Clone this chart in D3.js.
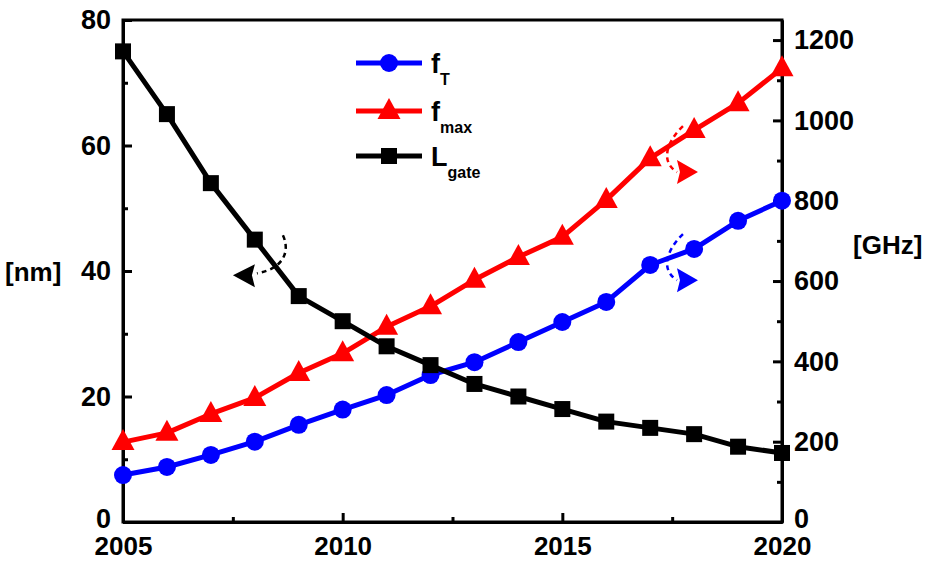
<!DOCTYPE html>
<html>
<head>
<meta charset="utf-8">
<script src="https://cdn.jsdelivr.net/npm/d3@7"></script>
<style>
  body { margin: 0; background: #fff; }
  text { font-family: "Liberation Sans", Arial, sans-serif; font-weight: bold; }
</style>
</head>
<body>
<div id="chart"></div>
<script>
// data
var years = [2005, 2006, 2007, 2008, 2009, 2010, 2011, 2012, 2013, 2014, 2015, 2016, 2017, 2018, 2019, 2020];
var fT    = [117, 137, 167, 200, 242, 280, 316, 366, 398, 448, 498, 548, 640, 680, 750, 800];      // GHz
var fMax  = [199, 222, 269, 309, 371, 420, 486, 537, 603, 660, 710, 802, 906, 976, 1043, 1130]; // GHz
var lGate = [75, 65, 54, 45, 36, 32, 28, 25, 22, 20, 18, 16, 15, 14, 12, 11];                   // nm

var xTicks = [2005, 2010, 2015, 2020];
var xMinor = [2007.5, 2012.5, 2017.5];
var leftTicks = [0, 20, 40, 60, 80];
var leftMinor = [10, 30, 50, 70];
var rightTicks = [0, 200, 400, 600, 800, 1000, 1200];
var rightMinor = [100, 300, 500, 700, 900, 1100];

var svgWidth = 928;
var svgHeight = 561;
var margin = { top: 20, right: 146, bottom: 39, left: 123 };
var width = svgWidth - margin.left - margin.right;
var height = svgHeight - margin.top - margin.bottom;

var svg = d3.select("#chart").append("svg")
  .attr("width", svgWidth)
  .attr("height", svgHeight);

var chart = svg.append("g")
  .attr("transform", `translate(${margin.left}, ${margin.top})`);

var x = d3.scaleLinear().domain([2005, 2020]).range([0, width]);
var yL = d3.scaleLinear().domain([0, 80]).range([height, 0]);
var yR = d3.scaleLinear().domain([0, 1250]).range([height, 0]);

// frame
chart.append("rect")
  .attr("width", width).attr("height", height)
  .attr("fill", "none").attr("stroke", "#000").attr("stroke-width", 3);

function styleAxis(g, size) {
  g.selectAll(".domain").attr("stroke-width", 3);
  g.selectAll(".tick line").attr("stroke-width", 3);
  g.selectAll("text").attr("font-size", size || 27).attr("fill", "#000");
}

// axes, ticks point inward
chart.append("g")
  .attr("transform", `translate(0, ${height})`)
  .call(d3.axisBottom(x).tickValues(xTicks).tickFormat(d3.format("d")).tickSize(-9).tickSizeOuter(0).tickPadding(15))
  .call(styleAxis, 26);
chart.append("g")
  .attr("transform", `translate(0, ${height})`)
  .call(d3.axisBottom(x).tickValues(xMinor).tickFormat("").tickSize(-5).tickSizeOuter(0))
  .call(styleAxis);

chart.append("g")
  .call(d3.axisLeft(yL).tickValues(leftTicks).tickFormat(d3.format("d")).tickSize(-9).tickSizeOuter(0).tickPadding(12))
  .call(styleAxis);
chart.append("g")
  .call(d3.axisLeft(yL).tickValues(leftMinor).tickFormat("").tickSize(-5).tickSizeOuter(0))
  .call(styleAxis);

chart.append("g")
  .attr("transform", `translate(${width}, 0)`)
  .call(d3.axisRight(yR).tickValues(rightTicks).tickFormat(d3.format("d")).tickSize(-9).tickSizeOuter(0).tickPadding(12))
  .call(styleAxis);
chart.append("g")
  .attr("transform", `translate(${width}, 0)`)
  .call(d3.axisRight(yR).tickValues(rightMinor).tickFormat("").tickSize(-5).tickSizeOuter(0))
  .call(styleAxis);

// lift the two zero labels a touch so they clear the year labels
chart.selectAll(".tick").filter(function(d) { return d === 0; })
  .select("text").attr("dy", "0.2em");

// axis titles
svg.append("text")
  .attr("x", 5).attr("y", 281)
  .attr("font-size", 26)
  .text("[nm]");
svg.append("text")
  .attr("x", 853).attr("y", 254)
  .attr("font-size", 26)
  .text("[GHz]");

// series
var series = [
  { name: "T", color: "#0000ff", vals: fT, scale: yR, marker: "circle" },
  { name: "max", color: "#ff0000", vals: fMax, scale: yR, marker: "triangle" },
  { name: "gate", color: "#000000", vals: lGate, scale: yL, marker: "square" }
];

function drawMarker(g, type, color) {
  if (type === "circle") {
    g.append("circle").attr("r", 9).attr("fill", color);
  } else if (type === "triangle") {
    g.append("path").attr("d", "M0,-13L11.5,8L-11.5,8Z").attr("fill", color);
  } else {
    g.append("rect").attr("x", -8).attr("y", -8).attr("width", 16).attr("height", 16).attr("fill", color);
  }
}

series.forEach(function(s) {
  var pts = years.map(function(yr, i) { return [x(yr), s.scale(s.vals[i])]; });
  chart.append("path")
    .attr("d", d3.line()(pts))
    .attr("fill", "none")
    .attr("stroke", s.color)
    .attr("stroke-width", 5)
    .attr("stroke-linejoin", "round");
  pts.forEach(function(p) {
    var g = chart.append("g").attr("transform", `translate(${p[0]}, ${p[1]})`);
    drawMarker(g, s.marker, s.color);
  });
});

// curved dashed arrows telling which axis a series belongs to
var notes = [
  { year: 2008.64, value: 42.5, scale: yL, color: "#000", dir: -1 },
  { year: 2017.45, value: 926, scale: yR, color: "#ff0000", dir: 1 },
  { year: 2017.45, value: 657, scale: yR, color: "#0000ff", dir: 1 }
];
notes.forEach(function(n) {
  var g = chart.append("g")
    .attr("transform", `translate(${x(n.year)}, ${n.scale(n.value)})`);
  if (n.dir < 0) {
    g.append("path")
      .attr("d", "M0,-20C7,-5 2,13 -26,18")
      .attr("fill", "none").attr("stroke", n.color)
      .attr("stroke-width", 2.5).attr("stroke-dasharray", "5,4");
    g.append("path")
      .attr("d", "M-50,20L-28,9L-31,20L-28,32Z")
      .attr("fill", n.color);
  } else {
    g.append("path")
      .attr("d", "M13,-24C0,-12 -12,10 7,22")
      .attr("fill", "none").attr("stroke", n.color)
      .attr("stroke-width", 2.5).attr("stroke-dasharray", "5,4");
    g.append("path")
      .attr("d", "M28,22L7,10L10,22L7,34Z")
      .attr("fill", n.color);
  }
});

// legend
var legend = svg.append("g").attr("transform", "translate(356, 63)");
series.forEach(function(s, i) {
  var row = legend.append("g").attr("transform", `translate(0, ${[0, 48, 93][i]})`);
  row.append("line")
    .attr("x1", 0).attr("x2", 66)
    .attr("stroke", s.color).attr("stroke-width", 5);
  var m = row.append("g").attr("transform", "translate(33, 0)");
  drawMarker(m, s.marker, s.color);
  var t = row.append("text").attr("x", 75).attr("y", 10).attr("font-size", 27);
  t.append("tspan").text(i === 2 ? "L" : "f");
  t.append("tspan").attr("font-size", 16).attr("dy", 12).text(s.name);
});
</script>
</body>
</html>
